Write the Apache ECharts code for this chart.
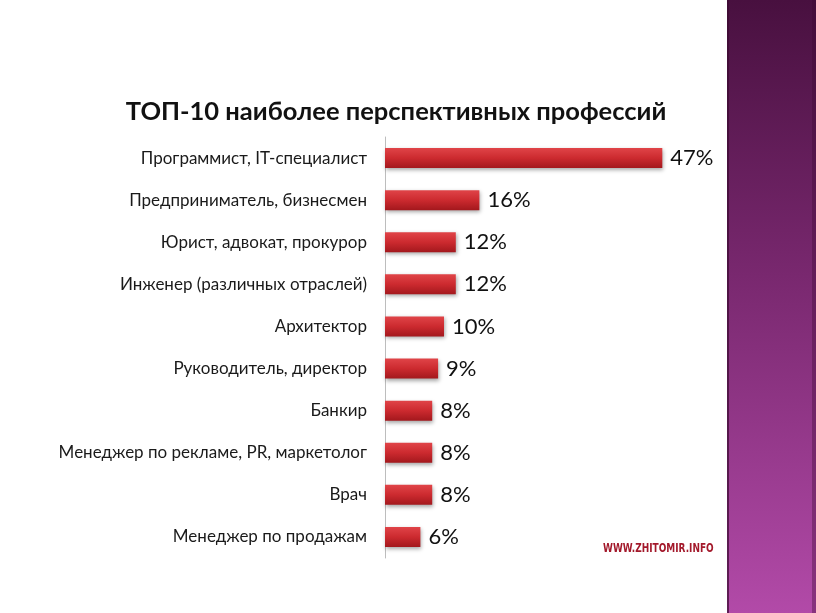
<!DOCTYPE html>
<html><head><meta charset="utf-8">
<script src="https://cdn.jsdelivr.net/npm/echarts@6/dist/echarts.min.js"></script>
<style>html,body{margin:0;padding:0;background:#fff}#c{width:816px;height:613px}</style>
</head><body><div id="c"></div>
<script>
const categories = [
  "Программист, IT-специалист",
  "Предприниматель, бизнесмен",
  "Юрист, адвокат, прокурор",
  "Инженер (различных отраслей)",
  "Архитектор",
  "Руководитель, директор",
  "Банкир",
  "Менеджер по рекламе, PR, маркетолог",
  "Врач",
  "Менеджер по продажам"
];
const values = [47, 16, 12, 12, 10, 9, 8, 8, 8, 6];
const titleText = "ТОП-10 наиболее перспективных профессий";
const watermark = "WWW.ZHITOMIR.INFO";

const chart = echarts.init(document.getElementById('c'), null, {renderer: 'canvas'});
chart.setOption({
  backgroundColor: '#ffffff',
  animation: false,
  title: {
    text: titleText,
    left: 391, top: 94, textAlign: 'center',
    textStyle: {fontFamily: 'Lato, "Open Sans", sans-serif', fontWeight: 'bold', fontSize: 25.5, color: '#111'}
  },
  graphic: [
    {type: 'rect', left: 727, top: 0, z: -10, shape: {width: 89, height: 613},
     style: {fill: new echarts.graphic.LinearGradient(0, 0, 0, 1, [
       {offset: 0, color: '#48103f'}, {offset: 0.45, color: '#79286f'}, {offset: 1, color: '#b24aa8'}])}},
    {type: 'rect', left: 727, top: 0, z: -9, shape: {width: 2, height: 613}, style: {fill: 'rgba(60,10,50,0.7)'}},
    {type: 'rect', left: 812, top: 0, z: -9, shape: {width: 4, height: 613}, style: {fill: 'rgba(60,10,50,0.35)'}},
    {type: 'text', x: 603, y: 543, scaleX: 0.83, z: 10,
     style: {text: watermark, fill: '#a3192b', fontWeight: 'bold', fontSize: 12,
             fontFamily: '"DejaVu Sans Condensed", sans-serif'}}
  ],
  grid: {left: 385, top: 137, width: 295, height: 421, containLabel: false},
  xAxis: {type: 'value', min: 0, max: 50, show: false},
  yAxis: {
    type: 'category', data: categories, inverse: true,
    axisLine: {show: true, lineStyle: {color: '#bdbdbd', width: 1}},
    axisTick: {show: false},
    axisLabel: {margin: 18, fontSize: 17, color: '#1a1a1a', fontFamily: 'Lato, "Open Sans", sans-serif'}
  },
  series: [{
    type: 'bar', data: values, barWidth: 20,
    itemStyle: {
      color: new echarts.graphic.LinearGradient(0, 0, 0, 1, [
        {offset: 0, color: '#e04448'}, {offset: 0.5, color: '#cc2a2f'}, {offset: 1, color: '#a3181d'}]),
      shadowColor: 'rgba(0,0,0,0.35)', shadowBlur: 4, shadowOffsetX: 1, shadowOffsetY: 2
    },
    label: {show: true, position: 'right', distance: 8, formatter: '{c}%',
            fontSize: 22, color: '#111', fontFamily: 'Lato, "Open Sans", sans-serif'}
  }]
});
</script></body></html>
